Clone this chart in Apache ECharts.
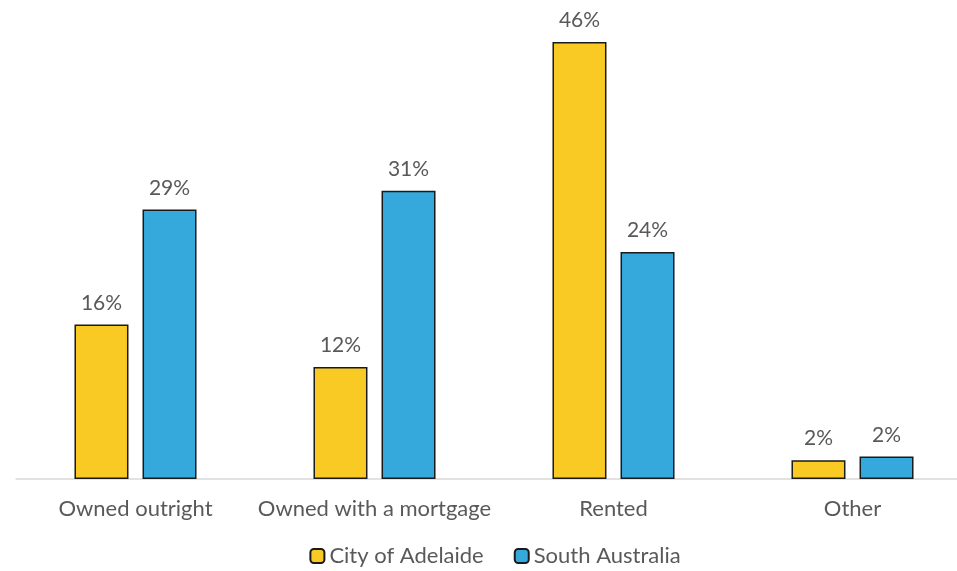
<!DOCTYPE html>
<html>
<head>
<meta charset="utf-8">
<script src="https://cdn.jsdelivr.net/npm/echarts@6/dist/echarts.min.js"></script>
<style>
  html, body { margin: 0; padding: 0; background: #fff; overflow: hidden; }
  #chart { width: 990px; height: 571px; }
</style>
</head>
<body>
<div id="chart"></div>
<script>
// tenure categories and shares (%)
const categories = ['Owned outright', 'Owned with a mortgage', 'Rented', 'Other']
const adelaide = [16.4, 11.9, 46.4, 2.0]
const southAustralia = [28.6, 30.6, 24.1, 2.4]

// the axis runs past the right edge of the picture, so the canvas is a bit wider than the window
const chart = echarts.init(document.getElementById('chart'))
const font = 'Lato, "Open Sans", sans-serif'

const label = {
  show: true,
  position: 'top',
  distance: 11,
  fontFamily: font,
  fontSize: 21,
  color: '#595959',
  formatter: p => Math.round(p.value) + '%'
}

chart.setOption({
  backgroundColor: '#fff',
  animation: false,
  grid: { left: 16, width: 956, top: 8, bottom: 92 },
  legend: {
    top: 540,
    left: 'center',
    itemWidth: 14,
    itemHeight: 14,
    itemGap: 30,
    textStyle: { fontFamily: font, fontSize: 22, color: '#595959' },
    data: ['City of Adelaide', 'South Australia']
  },
  xAxis: {
    type: 'category',
    data: categories,
    axisLine: { lineStyle: { color: '#d9d9d9', width: 1.5 } },
    axisTick: { show: false },
    axisLabel: { interval: 0, fontFamily: font, fontSize: 22, color: '#595959', margin: 19 }
  },
  yAxis: {
    type: 'value',
    min: 0,
    max: 50,
    show: false,
    splitLine: { show: false }
  },
  series: [
    {
      name: 'City of Adelaide',
      type: 'bar',
      data: adelaide,
      barWidth: 54,
      barGap: '26%',
      itemStyle: { color: '#f9ca24', borderColor: '#1a1a1a', borderWidth: 1.5 },
      label
    },
    {
      name: 'South Australia',
      type: 'bar',
      data: southAustralia,
      barWidth: 54,
      itemStyle: { color: '#35a8dc', borderColor: '#1a1a1a', borderWidth: 1.5 },
      label
    }
  ]
})
</script>
</body>
</html>
